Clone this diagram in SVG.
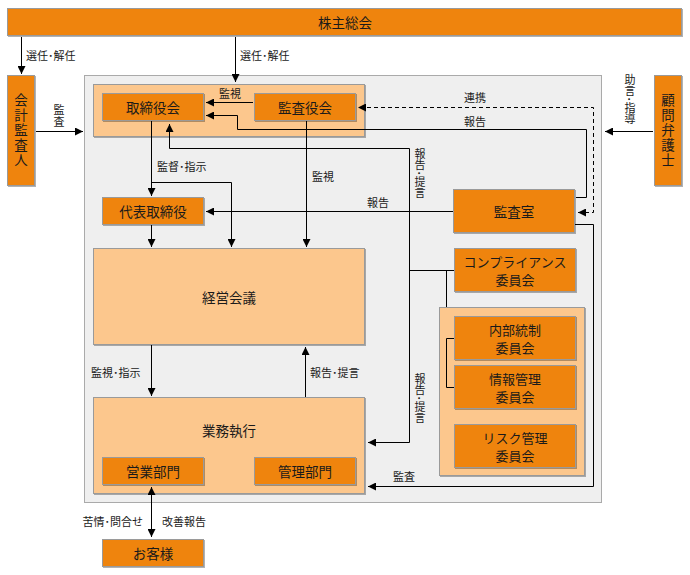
<svg xmlns="http://www.w3.org/2000/svg" width="690" height="575" viewBox="0 0 690 575">
<style>
text{font-family:"Noto Sans CJK JP","Noto Sans CJK SC",sans-serif;fill:#1a1a1a}
.n{font-size:13.5px;text-anchor:middle;dominant-baseline:central}
.m{font-size:13px;text-anchor:middle;dominant-baseline:central}
.l{font-size:11px;dominant-baseline:central}
.c{text-anchor:middle}
.v{writing-mode:vertical-rl;text-anchor:start;dominant-baseline:auto}
.o{fill:#EF8407;stroke:#9a9a9a;stroke-width:1;filter:url(#sh)}
.p{fill:#FCC78D;stroke:#9a9a9a;stroke-width:1;filter:url(#sh)}
.g{fill:#EFEFEF;stroke:#aaaaaa;stroke-width:1}
.w{fill:none;stroke:#000;stroke-width:1}
.a{marker-end:url(#ar)}
.b{marker-start:url(#ar);marker-end:url(#ar)}
.d{stroke-dasharray:4,3}
</style>
<defs>
<filter id="sh" x="-5%" y="-5%" width="110%" height="115%"><feDropShadow dx="1" dy="1" stdDeviation="0.7" flood-color="#000" flood-opacity="0.3"/></filter>
<marker id="ar" markerUnits="userSpaceOnUse" markerWidth="8" markerHeight="8" refX="8" refY="4" orient="auto-start-reverse"><path d="M0,0L8,4L0,8z" fill="#000"/></marker>
</defs>
<rect class="g" x="84.5" y="75.5" width="517" height="427"/>
<g id="kabunushi"><rect class="o" x="7.5" y="8.5" width="674" height="27"/><text class="n" x="345" y="22">株主総会</text></g>
<g id="kaikei"><rect class="o" x="7.5" y="75.5" width="27" height="110"/>
<text class="n v" x="21" y="93.5" letter-spacing="1.5">会計監査人</text></g>
<g id="komon"><rect class="o" x="654.5" y="75.5" width="27" height="110"/>
<text class="n v" x="668" y="93.5" letter-spacing="1.5">顧問弁護士</text></g>
<g id="board-group"><rect class="p" x="93.5" y="84.5" width="271" height="52"/></g>
<g id="torishimariyakukai"><rect class="o" x="102.5" y="93.5" width="101" height="27"/><text class="n" x="153" y="107">取締役会</text></g>
<g id="kansayakukai"><rect class="o" x="254.5" y="93.5" width="101" height="27"/><text class="n" x="305" y="107">監査役会</text></g>
<g id="daihyo"><rect class="o" x="102.5" y="197.5" width="101" height="27"/><text class="n" x="153" y="211">代表取締役</text></g>
<g id="keiei"><rect class="p" x="93.5" y="248.5" width="271" height="96"/><text class="n" x="229" y="297">経営会議</text></g>
<g id="gyomu"><rect class="p" x="93.5" y="397.5" width="271" height="96"/><text class="n" x="229" y="430">業務執行</text></g>
<g id="eigyo"><rect class="o" x="102.5" y="457.5" width="101" height="27"/><text class="n" x="153" y="471">営業部門</text></g>
<g id="kanri"><rect class="o" x="254.5" y="457.5" width="101" height="27"/><text class="n" x="305" y="471">管理部門</text></g>
<g id="okyakusama"><rect class="o" x="102.5" y="539.5" width="101" height="27"/><text class="n" x="153" y="553">お客様</text></g>
<g id="kansashitsu"><rect class="o" x="453.5" y="189.5" width="121" height="43"/><text class="n" x="514" y="211">監査室</text></g>
<g id="compliance"><rect class="o" x="454.5" y="248.5" width="121" height="43"/><text class="m"><tspan x="515" y="261">コンプライアンス</tspan><tspan x="515" y="279">委員会</tspan></text></g>
<g id="committees"><rect class="p" x="439.5" y="307.5" width="145" height="168"/></g>
<g id="naibu"><rect class="o" x="454.5" y="316.5" width="121" height="43"/><text class="m"><tspan x="515" y="329">内部統制</tspan><tspan x="515" y="347">委員会</tspan></text></g>
<g id="joho"><rect class="o" x="454.5" y="365.5" width="121" height="43"/><text class="m"><tspan x="515" y="378">情報管理</tspan><tspan x="515" y="396">委員会</tspan></text></g>
<g id="risk"><rect class="o" x="454.5" y="424.5" width="121" height="43"/><text class="m"><tspan x="515" y="437">リスク管理</tspan><tspan x="515" y="455">委員会</tspan></text></g>
<g id="connectors">
<path class="w a" d="M21.5,37V74"/>
<path class="w a" d="M235.5,37V82"/>
<path class="w a" d="M36,131.5H83"/>
<path class="w a" d="M653,131.5H605"/>
<path class="w a" d="M253,102.5H206"/>
<path class="w a" d="M576,197.5H586.5V129.5H237.5V115.5H206"/>
<path class="w b d" d="M578,212.5H593.5V107.5H358"/>
<path class="w b" d="M169.5,124V148.5H409.5V442.5H368"/>
<path class="w" d="M409.5,270.5H454M446.5,270.5V307"/>
<path class="w" d="M454,338.5H446.5V387.5H454"/>
<path class="w a" d="M151.5,121V196"/>
<path class="w a" d="M151.5,182.5H231.5V247"/>
<path class="w a" d="M306.5,121V247"/>
<path class="w a" d="M453,211.5H206"/>
<path class="w a" d="M151.5,225V247"/>
<path class="w a" d="M151.5,345V396"/>
<path class="w a" d="M305.5,397V347"/>
<path class="w b" d="M151.5,487V537"/>
<path class="w a" d="M575,224.5H593.5V486.5H368"/>
</g>
<g id="labels">
<text class="l" x="26" y="55">選任･解任</text>
<text class="l" x="240" y="55">選任･解任</text>
<text class="l v" x="59" y="104.5" letter-spacing="1">監査</text>
<text class="l v" x="630" y="74.5">助言･指導</text>
<text class="l c" x="230" y="93">監視</text>
<text class="l c" x="475" y="97">連携</text>
<text class="l c" x="475" y="121">報告</text>
<text class="l" x="157" y="166">監督･指示</text>
<text class="l" x="312" y="176">監視</text>
<text class="l c" x="378" y="202">報告</text>
<text class="l v" x="420" y="148.5">報告･提言</text>
<text class="l v" x="420" y="373.5">報告･提言</text>
<text class="l" x="91" y="372">監視･指示</text>
<text class="l" x="310" y="372">報告･提言</text>
<text class="l" x="143" y="521" text-anchor="end">苦情･問合せ</text>
<text class="l" x="162" y="521">改善報告</text>
<text class="l c" x="404" y="476">監査</text>
</g>
</svg>
